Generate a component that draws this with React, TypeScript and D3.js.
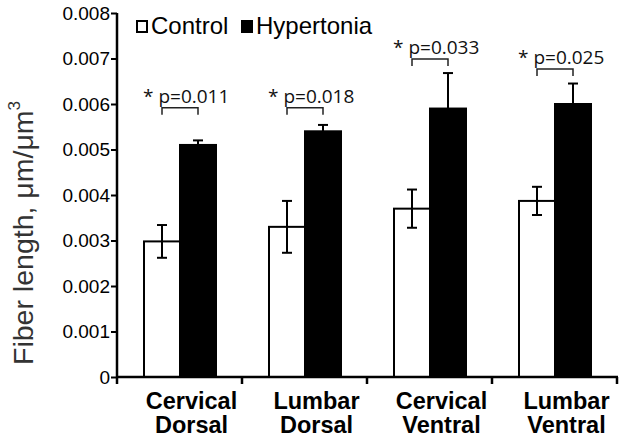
import React, { useEffect, useRef } from "react";
import * as d3 from "d3";

const regions = ["Cervical Dorsal", "Lumbar Dorsal", "Cervical Ventral", "Lumbar Ventral"];
const series = ["Control", "Hypertonia"];
const controlMean = [0.00298, 0.0033, 0.0037, 0.00387];
const controlErr = [0.00036, 0.00057, 0.00042, 0.00031];
const hyperMean = [0.0051, 0.0054, 0.0059, 0.006];
const hyperErr = [0.0001, 0.00014, 0.00078, 0.00045];
const pValues = ["p=0.011", "p=0.018", "p=0.033", "p=0.025"];
const bracketLevel = [0.00592, 0.00592, 0.00699, 0.00677];
const yTicks = [0, 0.001, 0.002, 0.003, 0.004, 0.005, 0.006, 0.007, 0.008];

const W = 624;
const H = 440;

const App = () => {
  const ref = useRef<SVGSVGElement>(null);

  useEffect(() => {
    if (!ref.current) return;
    const svg = d3.select(ref.current);
    svg.selectAll("*").remove();

    const x = d3.scaleBand<string>().domain(regions).range([117, 617]);
    const xs = d3.scaleBand<string>().domain(series).range([27, 99]);
    const y = d3.scaleLinear().domain([0, 0.008]).range([377, 13]);

    const rows = regions.map((r, i) => ({
      region: r,
      vals: [
        { s: "Control", m: controlMean[i], e: controlErr[i] },
        { s: "Hypertonia", m: hyperMean[i], e: hyperErr[i] },
      ],
      p: pValues[i],
      b: bracketLevel[i],
    }));

    // bars
    const g = svg
      .selectAll("g.grp")
      .data(rows)
      .join("g")
      .attr("class", "grp")
      .attr("transform", (d) => `translate(${x(d.region)},0)`);

    g.selectAll("rect")
      .data((d) => d.vals)
      .join("rect")
      .attr("x", (d) => xs(d.s)!)
      .attr("width", xs.bandwidth())
      .attr("y", (d) => y(d.m))
      .attr("height", (d) => y(0) - y(d.m))
      .attr("fill", (d) => (d.s === "Control" ? "#fff" : "#000"))
      .attr("stroke", "#000")
      .attr("stroke-width", 2);

    // error bars
    const eb = g
      .selectAll("g.err")
      .data((d) => d.vals)
      .join("g")
      .attr("class", "err")
      .attr("stroke", "#000")
      .attr("stroke-width", 2);
    const cx = (d: any) => xs(d.s)! + xs.bandwidth() / 2;
    eb.append("line")
      .attr("x1", cx)
      .attr("x2", cx)
      .attr("y1", (d) => y(d.m - d.e))
      .attr("y2", (d) => y(d.m + d.e));
    eb.append("line")
      .attr("x1", (d) => cx(d) - 5)
      .attr("x2", (d) => cx(d) + 5)
      .attr("y1", (d) => y(d.m + d.e))
      .attr("y2", (d) => y(d.m + d.e));
    eb.append("line")
      .attr("x1", (d) => cx(d) - 5)
      .attr("x2", (d) => cx(d) + 5)
      .attr("y1", (d) => y(d.m - d.e))
      .attr("y2", (d) => y(d.m - d.e));

    // significance brackets
    const x0 = xs("Control")! + xs.bandwidth() / 2;
    const x1 = xs("Hypertonia")! + xs.bandwidth() / 2;
    g.append("path")
      .attr("d", (d) => `M${x0},${y(d.b) + 7}V${y(d.b)}H${x1}V${y(d.b) + 7}`)
      .attr("fill", "none")
      .attr("stroke", "#222")
      .attr("stroke-width", 1.5);
    g.append("text")
      .attr("x", x0 - 19)
      .attr("y", (d) => y(d.b) - 5)
      .attr("font-family", "Open Sans")
      .attr("font-size", 19)
      .attr("fill", "#111")
      .text((d) => `* ${d.p}`);

    // y axis
    const ya = svg
      .append("g")
      .attr("transform", "translate(117,0)")
      .call(d3.axisLeft(y).tickValues(yTicks).tickFormat((v) => (v === 0 ? "0" : d3.format(".3f")(v as number))).tickSize(6).tickSizeOuter(0));
    ya.select(".domain").attr("stroke-width", 2.5).attr("d", `M0,${y(0.008)}V${384}`);
    ya.selectAll(".tick line").attr("stroke-width", 2);
    ya.selectAll(".tick text")
      .attr("font-family", "Arial, Liberation Sans")
      .attr("font-size", 19)
      .attr("fill", "#000")
      .attr("x", -7);

    // x axis
    const xa = svg.append("g").attr("transform", `translate(0,${y(0)})`);
    xa.append("line").attr("x1", 117).attr("x2", 618).attr("stroke", "#000").attr("stroke-width", 2.5);
    xa.selectAll("line.tk")
      .data(regions)
      .join("line")
      .attr("class", "tk")
      .attr("x1", (d) => x(d)! + x.bandwidth())
      .attr("x2", (d) => x(d)! + x.bandwidth())
      .attr("y1", 0)
      .attr("y2", 7)
      .attr("stroke", "#000")
      .attr("stroke-width", 2.5);
    const lbl = xa
      .selectAll("text")
      .data(regions)
      .join("text")
      .attr("text-anchor", "middle")
      .attr("font-family", "Arial, Liberation Sans")
      .attr("font-weight", "bold")
      .attr("font-size", 23.5)
      .attr("fill", "#000");
    lbl.selectAll("tspan")
      .data((d) => d.split(" ").map((w) => ({ w, r: d })))
      .join("tspan")
      .attr("x", (d) => x(d.r)! + x.bandwidth() / 2 + 12)
      .attr("y", (_d, i) => 32 + i * 24)
      .text((d) => d.w);

    // legend
    const leg = svg.append("g").attr("font-family", "Arial, Liberation Sans").attr("font-size", 24);
    const legX = [135, 240];
    series.forEach((s, i) => {
      leg.append("rect")
        .attr("x", legX[i] + 2)
        .attr("y", 21)
        .attr("width", 10)
        .attr("height", 11)
        .attr("fill", i === 0 ? "#fff" : "#000")
        .attr("stroke", "#000")
        .attr("stroke-width", 2);
      leg.append("text").attr("x", legX[i] + 16).attr("y", 34).attr("fill", "#000").text(s);
    });

    // y label
    const yl = svg
      .append("text")
      .attr("transform", "translate(33,365) rotate(-90)")
      .attr("font-family", "Arial, Liberation Sans")
      .attr("font-size", 28.5)
      .attr("fill", "#333");
    yl.append("tspan").text("Fiber length, \u03bcm/\u03bcm");
    yl.append("tspan").attr("font-size", 17).attr("dy", -13).text("3");
  }, []);

  return (
    <svg
      ref={ref}
      width={W}
      height={H}
      style={{ position: "absolute", left: 0, top: 0, background: "#fff" }}
    />
  );
};

export default App;
